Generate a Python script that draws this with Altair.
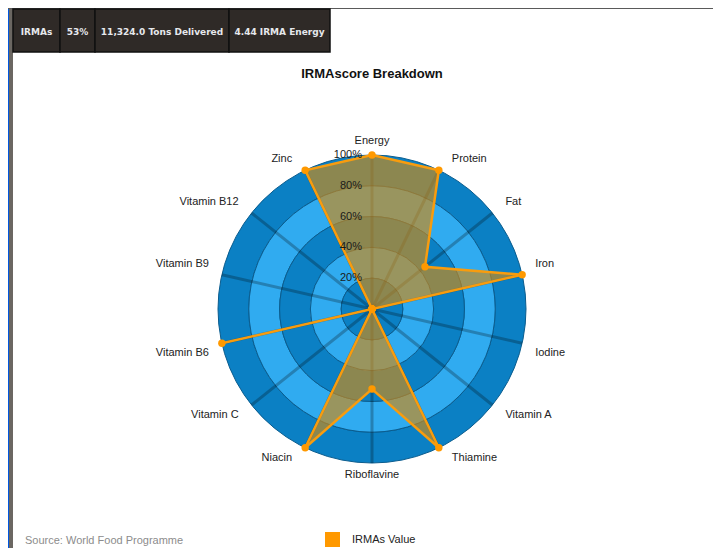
import math
import altair as alt
import pandas as pd

# ---------------- data ----------------
categories = ["Energy", "Protein", "Fat", "Iron", "Iodine", "Vitamin A", "Thiamine",
              "Riboflavine", "Niacin", "Vitamin C", "Vitamin B6", "Vitamin B9",
              "Vitamin B12", "Zinc"]
values = [100, 100, 44, 100, 0, 0, 100, 52, 100, 0, 100, 0, 0, 100]
grid_levels = [20, 40, 60, 80, 100]
grid_labels = ["20%", "40%", "60%", "80%", "100%"]
band_outer = [100, 80, 60, 40, 20]
band_inner = [80, 60, 40, 20, 0]
band_shade = ["dark", "light", "dark", "light", "dark"]
header_labels = ["IRMAs", "53%", "11,324.0 Tons Delivered", "4.44 IRMA Energy"]
series_name = "IRMAs Value"
title_text = "IRMAscore Breakdown"
source_text = "Source: World Food Programme"

# ---------------- layout ----------------
W, H = 705, 540
CX, CY = 364, 301          # radar centre (canvas px)
R = 154                    # radius of 100% (px)
N = len(categories)
HEADER_EDGES = [5, 52, 87, 221, 322]
HEADER_TOP, HEADER_BOTTOM = 1, 44

ORANGE = "#ff9900"
FONT = "Liberation Sans"

xs = alt.Scale(domain=[-100, 100], range=[CX - R, CX + R])
ys = alt.Scale(domain=[-100, 100], range=[CY + R, CY - R])
rs = alt.Scale(domain=[0, 100], range=[0, R], zero=True)

cat_df = pd.DataFrame({"cat": categories, "k": list(range(N)), "v": values})
poly_df = pd.concat([cat_df, cat_df.iloc[[0]].assign(k=N)], ignore_index=True)
band_df = pd.DataFrame({"hi": band_outer, "lo": band_inner, "shade": band_shade})
grid_df = pd.DataFrame({"lvl": grid_levels, "lab": grid_labels})
one = pd.DataFrame({"o": [0]})

ANG = f"datum.k * 2 * PI / {N}"

# background frame strips
frame = [
    alt.Chart(one).mark_rect(color="#0057e0").encode(
        x=alt.value(0), x2=alt.value(1), y=alt.value(0), y2=alt.value(H)),
    alt.Chart(one).mark_rect(color="#6b6762").encode(
        x=alt.value(1), x2=alt.value(5), y=alt.value(0), y2=alt.value(H)),
    alt.Chart(one).mark_rect(color="#5a5a5a").encode(
        x=alt.value(0), x2=alt.value(W), y=alt.value(0), y2=alt.value(1)),
]

# header boxes
header = []
for i, lab in enumerate(header_labels):
    x0, x1 = HEADER_EDGES[i], HEADER_EDGES[i + 1]
    header.append(alt.Chart(one).mark_rect(color="#2f2a27", stroke="#111111", strokeWidth=1.5).encode(
        x=alt.value(x0), x2=alt.value(x1), y=alt.value(HEADER_TOP), y2=alt.value(HEADER_BOTTOM)))
    header.append(alt.Chart(one).mark_text(
        font="DejaVu Sans", fontSize=9, fontWeight="bold", color="#e6e8ec",
        align="center", baseline="middle").encode(
        x=alt.value((x0 + x1) / 2), y=alt.value((HEADER_TOP + HEADER_BOTTOM) / 2 + 1),
        text=alt.value(lab)))

title = alt.Chart(one).mark_text(font=FONT, fontSize=13, fontWeight="bold", color="#111111",
                                 align="center", baseline="middle").encode(
    x=alt.value(CX), y=alt.value(66), text=alt.value(title_text))

# rings
rings = alt.Chart(band_df).mark_arc(theta=0, theta2=2 * math.pi, stroke="#0a5c8e",
                                    strokeWidth=1).encode(
    x=alt.value(CX), y=alt.value(CY),
    radius=alt.Radius("hi:Q", scale=rs),
    radius2="lo:Q",
    color=alt.Color("shade:N", scale=alt.Scale(domain=["dark", "light"],
                                               range=["#0b80c4", "#30abf0"]), legend=None),
)

# spokes
spokes = alt.Chart(cat_df).transform_calculate(
    a=ANG, ex="100 * sin(datum.a)", ey="100 * cos(datum.a)", z="0"
).mark_rule(color="#000000", opacity=0.25, strokeWidth=3).encode(
    x=alt.X("z:Q", scale=xs, axis=None), y=alt.Y("z:Q", scale=ys, axis=None),
    x2="ex:Q", y2="ey:Q")

# polygon
poly = alt.Chart(poly_df).transform_calculate(
    a=ANG, px="datum.v * sin(datum.a)", py="datum.v * cos(datum.a)"
).mark_line(stroke="#f89c0e", strokeWidth=2.5, fill="#d08a14", fillOpacity=0.66).encode(
    x=alt.X("px:Q", scale=xs, axis=None), y=alt.Y("py:Q", scale=ys, axis=None),
    order="k:Q")

pts = alt.Chart(cat_df).transform_calculate(
    a=ANG, px="datum.v * sin(datum.a)", py="datum.v * cos(datum.a)"
).mark_circle(size=55, color=ORANGE, opacity=1).encode(
    x=alt.X("px:Q", scale=xs, axis=None), y=alt.Y("py:Q", scale=ys, axis=None))

# grid labels
glabels = alt.Chart(grid_df).transform_calculate(z="0").mark_text(
    align="right", baseline="middle", dx=-10, font=FONT, fontSize=11, color="#1a1a1a").encode(
    x=alt.X("z:Q", scale=xs, axis=None), y=alt.Y("lvl:Q", scale=ys, axis=None), text="lab:N")


def cat_labels(side_expr, align, dx, dy):
    return alt.Chart(cat_df).transform_calculate(
        a=ANG, s="sin(datum.a)", c="cos(datum.a)",
        lx="100 * sin(datum.a)", ly="100 * cos(datum.a)"
    ).transform_filter(side_expr).mark_text(
        align=align, baseline="middle", dx=dx, dy=dy, font=FONT, fontSize=11,
        color="#222222").encode(
        x=alt.X("lx:Q", scale=xs, axis=None), y=alt.Y("ly:Q", scale=ys, axis=None), text="cat:N")


cat_layers = [
    cat_labels("abs(datum.s) < 0.01 && datum.c > 0", "center", 0, -14),
    cat_labels("abs(datum.s) < 0.01 && datum.c < 0", "center", 0, 12),
    cat_labels("datum.s >= 0.01 && datum.c > 0", "left", 13, -11),
    cat_labels("datum.s >= 0.01 && datum.c < 0", "left", 13, 10),
    cat_labels("datum.s <= -0.01 && datum.c > 0", "right", -13, -11),
    cat_labels("datum.s <= -0.01 && datum.c < 0", "right", -13, 10),
]

# legend + source
legend_sw = alt.Chart(one).mark_rect(color=ORANGE).encode(
    x=alt.value(317), x2=alt.value(332), y=alt.value(524), y2=alt.value(539))
legend_tx = alt.Chart(one).mark_text(font=FONT, fontSize=11, color="#222222",
                                     align="left", baseline="middle").encode(
    x=alt.value(344), y=alt.value(532), text=alt.value(series_name))
source = alt.Chart(one).mark_text(font=FONT, fontSize=11, color="#8c8c8c",
                                  align="left", baseline="middle").encode(
    x=alt.value(17), y=alt.value(533), text=alt.value(source_text))

chart = alt.layer(
    *frame, *header, title, rings, spokes, poly, pts, glabels, *cat_layers,
    legend_sw, legend_tx, source
).properties(
    width=W, height=H, padding=0, background="white",
    autosize=alt.AutoSizeParams(type="none")
).configure_view(stroke=None)

chart.save("out.html", embed_options={"renderer": "svg", "actions": False})
